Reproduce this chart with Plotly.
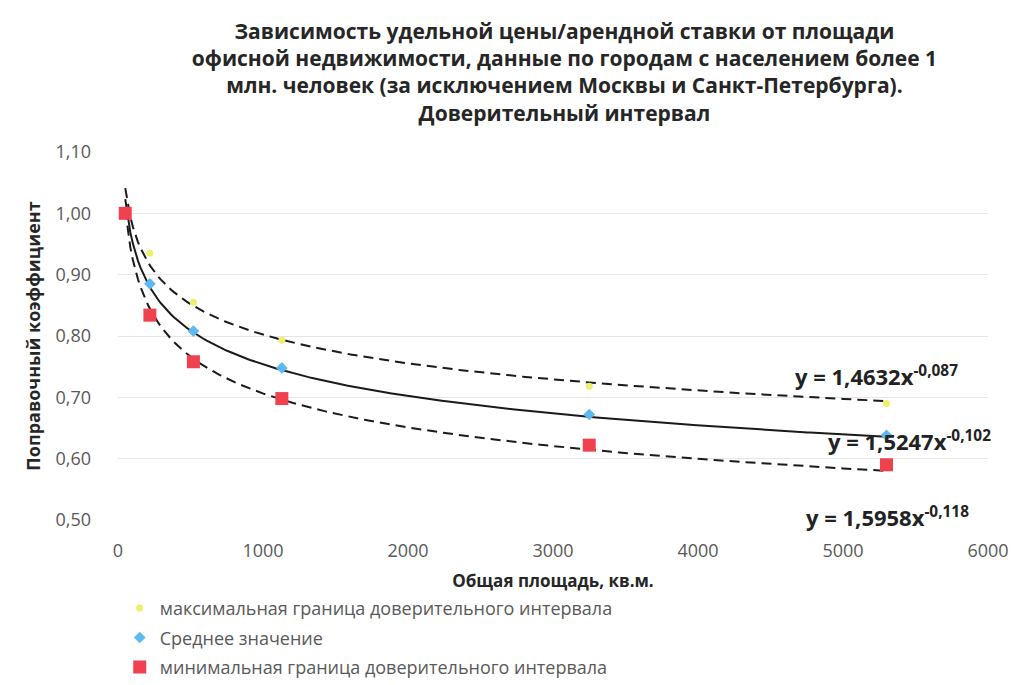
import numpy as np
import plotly.graph_objects as go

# Data
area = [50, 220, 520, 1130, 3250, 5300]
upper = [1.00, 0.935, 0.855, 0.793, 0.718, 0.690]
mean = [1.00, 0.885, 0.808, 0.748, 0.672, 0.638]
lower = [1.00, 0.834, 0.758, 0.698, 0.622, 0.590]

series_names = [
    "максимальная граница доверительного интервала",
    "Среднее значение",
    "минимальная граница доверительного интервала",
]
# Power trend-line coefficients shown on the chart: y = a * x^b
trend_a = [1.4632, 1.5247, 1.5958]
trend_b = [-0.087, -0.102, -0.118]
trend_labels = [
    "<b>y = 1,4632x<sup>-0,087</sup></b>",
    "<b>y = 1,5247x<sup>-0,102</sup></b>",
    "<b>y = 1,5958x<sup>-0,118</sup></b>",
]
label_x = [5228, 5462, 5310]
label_y = [0.735, 0.630, 0.505]
label_shift = [0, 0, 0]

x_ticks = [0, 1000, 2000, 3000, 4000, 5000, 6000]

colors = ["#EEF06A", "#5DB9F0", "#F0414F"]
symbols = ["circle", "diamond", "square"]
sizes = [7, 9, 13]
dashes = ["10px,6px", "solid", "10px,6px"]

fig = go.Figure()

xs = np.linspace(area[0], area[-1], 300)
for a, b, d in zip(trend_a, trend_b, dashes):
    fig.add_trace(go.Scatter(
        x=xs, y=a * xs ** b, mode="lines",
        line=dict(color="#1a1a1a", width=2, dash=d),
        showlegend=False, hoverinfo="skip",
    ))

for i, (name, vals, c, s, sz) in enumerate(zip(series_names, [upper, mean, lower], colors, symbols, sizes)):
    fig.add_trace(go.Scatter(
        x=area, y=vals, mode="markers", name=name, legendgroup=f"g{i}",
        marker=dict(color=c, symbol=s, size=sz),
    ))

for lx, ly, sh, txt in zip(label_x, label_y, label_shift, trend_labels):
    fig.add_annotation(
        x=lx, y=ly, yshift=sh, text=txt, showarrow=False,
        font=dict(size=22, color="#222222", family="Open Sans"),
        xanchor="center", yanchor="middle",
    )

fig.update_layout(
    width=1021, height=685,
    paper_bgcolor="white", plot_bgcolor="white",
    separators=", ",
    margin=dict(l=110, r=41, t=144, b=173, autoexpand=False),
    font=dict(family="Open Sans", color="#595959"),
    title=dict(
        text="<b>Зависимость удельной цены/арендной ставки от площади<br>"
             "офисной недвижимости, данные по городам с населением более 1<br>"
             "млн. человек (за исключением Москвы и Санкт-Петербурга).<br>"
             "Доверительный интервал</b>",
        x=0.545, xanchor="center", y=0.955, yanchor="top",
        font=dict(size=21, color="#262626", family="Open Sans"),
    ),
    xaxis=dict(
        range=[0, 6000], tickvals=x_ticks,
        showgrid=False, zeroline=False, showline=False,
        tickfont=dict(size=18, color="#595959"),
        ticklabelstandoff=18,
        title=dict(text="<b>Общая площадь, кв.м.</b>", font=dict(size=17, color="#262626"), standoff=14),
    ),
    yaxis=dict(
        range=[0.5, 1.1], dtick=0.1, tickformat=".2f",
        showgrid=True, gridcolor="#E6E6E6", gridwidth=1,
        zeroline=False, showline=False,
        tickfont=dict(size=18, color="#595959"),
        ticklabelstandoff=26,
        title=dict(text="<b>Поправочный коэффициент</b>", font=dict(size=18, color="#262626"), standoff=10),
    ),
    legend=dict(
        x=0.002, y=-0.19, xanchor="left", yanchor="top",
        orientation="v", font=dict(size=18, color="#595959"),
        tracegroupgap=3, itemwidth=30,
    ),
)

fig.write_html("out.html")
